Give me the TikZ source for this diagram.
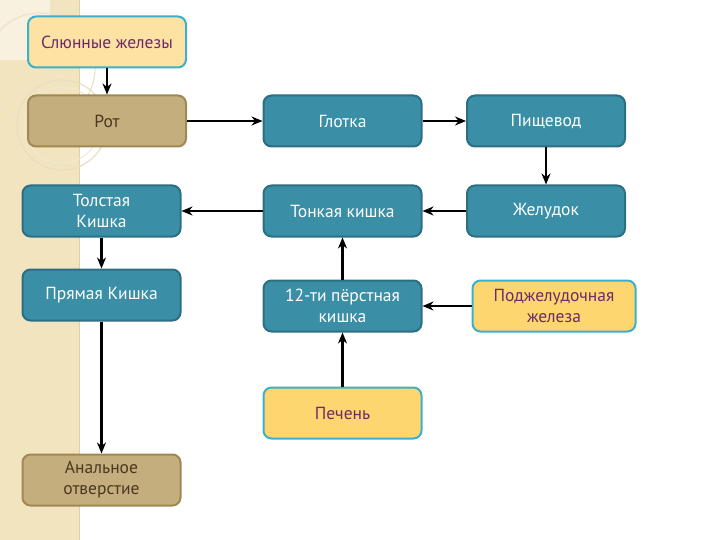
\documentclass[tikz,border=0pt]{standalone}
\usepackage{fontspec}
\setmainfont{PT Sans}
\usetikzlibrary{arrows.meta}
\definecolor{tealfill}{HTML}{3A8EA5}
\definecolor{tealdraw}{HTML}{2C6F84}
\definecolor{yelfill}{HTML}{FDD66F}
\definecolor{yelfilllight}{HTML}{FDE2A3}
\definecolor{cyandraw}{HTML}{3BB0CA}
\definecolor{purpletext}{HTML}{6C2B68}
\definecolor{tanfill}{HTML}{C5AE7E}
\definecolor{tandraw}{HTML}{9F8852}
\definecolor{browntext}{HTML}{4A3820}
\definecolor{bandfill}{HTML}{F2E4BF}
\definecolor{bandline}{HTML}{E0D0A6}
\tikzset{
  box/.style={rounded corners=8pt, line width=2pt, minimum width=158pt, minimum height=51pt,
    align=center, inner sep=2pt, font=\fontsize{17.5}{21}\selectfont},
  tealbox/.style={box, fill=tealfill, draw=tealdraw, text=white},
  yelbox/.style={box, fill=yelfill, draw=cyandraw, text=purpletext},
  tanbox/.style={box, fill=tanfill, draw=tandraw, text=browntext},
  arr/.style={-{Stealth[length=11pt,width=9pt,inset=3.5pt]}, line width=2.2pt, black},
}
\begin{document}
\begin{tikzpicture}[x=1pt,y=-1pt]
\useasboundingbox (0,0) rectangle (720,540);
% background band
\fill[bandfill] (0,0) rectangle (79,540);
\fill[white!50!bandfill] (0,0) rectangle (50,60);
\draw[bandline, line width=1pt] (79,0) -- (79,540);
\draw[white!40!bandline, line width=1.2pt] (40,68) circle (55);
\draw[white!30!bandline, line width=1.2pt] (62,125) circle (45);
\draw[white!50!bandline, line width=1pt] (62,125) circle (38);
% nodes
\node[tanbox] (rot) at (107,121) {Рот};
\node[yelbox, fill=yelfilllight] (slyun) at (107,42) {Слюнные железы};
\node[tealbox] (glotka) at (342.5,121) {Глотка};
\node[tealbox] (pishch) at (546,121) {Пищевод};
\node[tealbox] (tolst) at (101.5,211) {Толстая\\Кишка};
\node[tealbox] (tonk) at (342.5,211) {Тонкая кишка};
\node[tealbox] (zhel) at (546,211) {Желудок};
\node[tealbox] (pryam) at (101.5,295) {Прямая Кишка};
\node[tealbox] (duod) at (342.5,306) {12-ти пёрстная\\кишка};
\node[yelbox, minimum width=163pt] (podzh) at (554,306) {Поджелудочная\\железа};
\node[yelbox] (pechen) at (342.5,413) {Печень};
\node[tanbox] (anal) at (101.5,480) {Анальное\\отверстие};
% connectors
\draw[arr] (slyun) -- (rot);
\draw[arr] (rot) -- (glotka);
\draw[arr] (glotka) -- (pishch);
\draw[arr] (pishch) -- (zhel);
\draw[arr] (zhel) -- (tonk);
\draw[arr] (tonk) -- (tolst);
\draw[arr] (tolst) -- (pryam);
\draw[arr] (pryam) -- (anal);
\draw[arr] (duod) -- (tonk);
\draw[arr] (podzh) -- (duod);
\draw[arr] (pechen) -- (duod);
\end{tikzpicture}
\end{document}
